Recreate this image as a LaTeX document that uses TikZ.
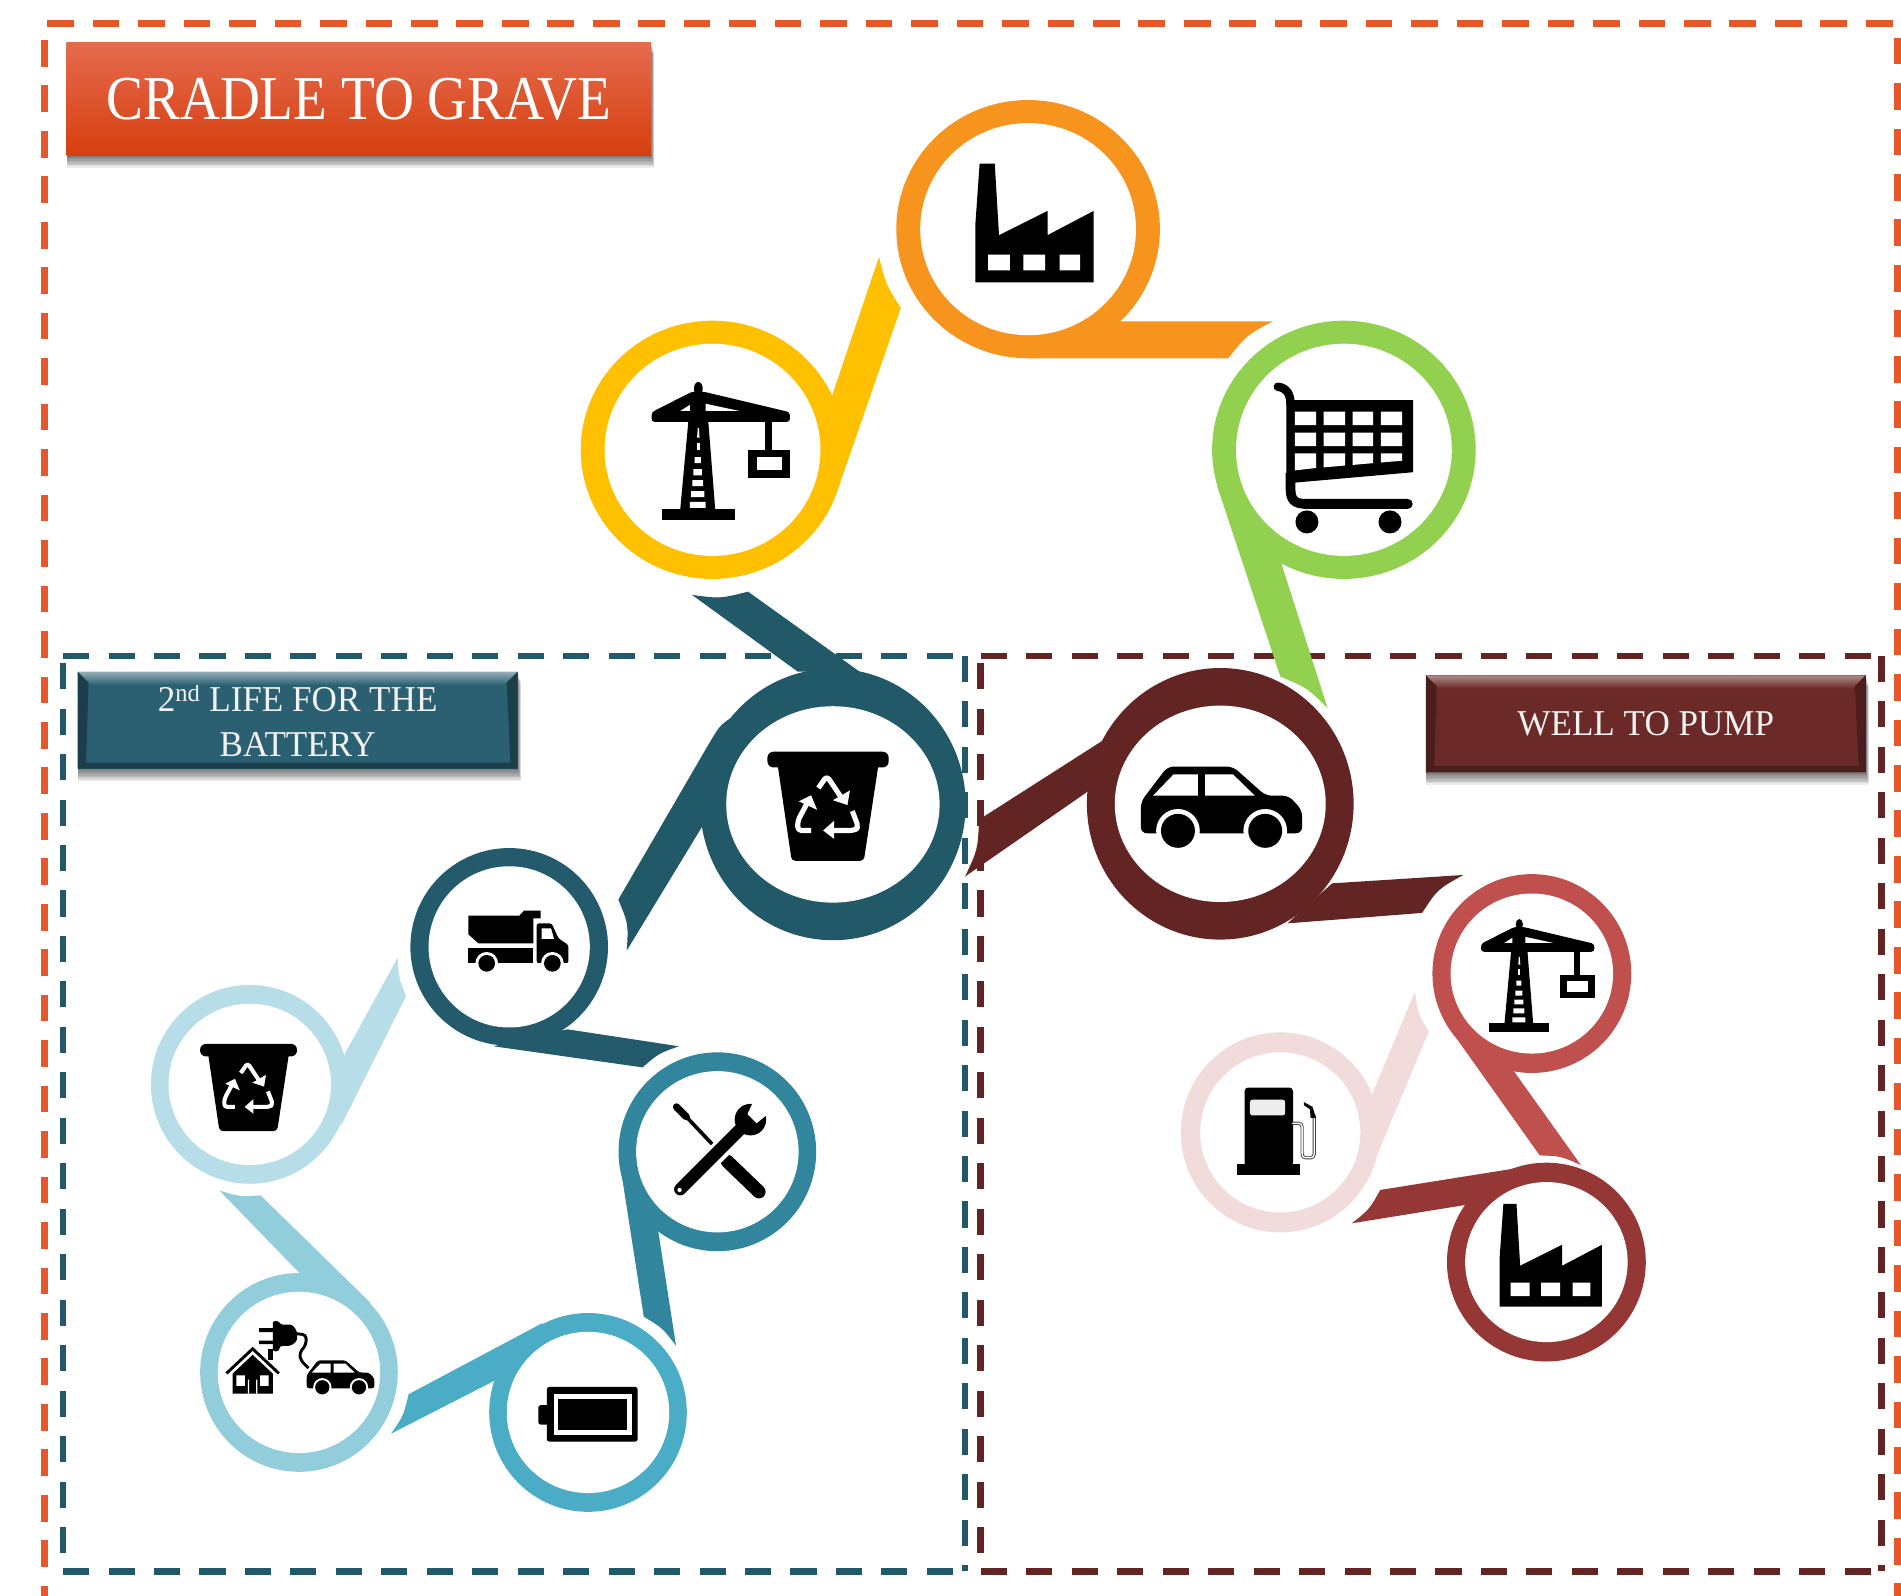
\documentclass[tikz,border=0pt]{standalone}
\usepackage{fontspec}
\usepackage{graphicx}
\usetikzlibrary{shapes.geometric}
\newfontfamily\bigfont[FakeStretch=0.886]{Liberation Serif}
\newfontfamily\tagfont[FakeStretch=0.965]{Liberation Serif}
\definecolor{cOrangeDash}{HTML}{E6582A}
\definecolor{cTeal}{HTML}{215968}
\definecolor{cMaroon}{HTML}{632523}
\definecolor{cTagTeal}{HTML}{2A6072}
\definecolor{cTagMaroon}{HTML}{6B2A28}
\definecolor{cOrange}{HTML}{F7941E}
\definecolor{cYellow}{HTML}{FFC000}
\definecolor{cGreen}{HTML}{92D050}
\definecolor{cTruck}{HTML}{235B6C}
\definecolor{cWrench}{HTML}{31859C}
\definecolor{cBatt}{HTML}{4BACC6}
\definecolor{cCharge}{HTML}{92CDDC}
\definecolor{cPale}{HTML}{B7DEE8}
\definecolor{cCrane}{HTML}{C0504D}
\definecolor{cFact}{HTML}{953735}
\definecolor{cPump}{HTML}{F2DCDB}
\definecolor{cTitleTop}{HTML}{E56B4E}
\definecolor{cTitleMid}{HTML}{E8501E}
\definecolor{cTitleBot}{HTML}{D63F0F}
\tikzset{
  ringout/.style={ellipse,inner sep=0pt,outer sep=0pt,fill=#1},
  ringin/.style={ellipse,inner sep=0pt,outer sep=0pt,fill=white},
  dashbox/.style={line width=5.5pt,dash pattern=on 21.5pt off 16pt,rounded corners=3pt},
  tagbox/.style={rectangle,inner sep=0pt,outer sep=0pt,text=white!95!black,font=\tagfont\fontsize{30}{37}\selectfont,align=center},
}
% name, colour, cx, cy, Rx, Ry, rx, ry
\newcommand{\ringshape}[8]{%
  \node[ringout=#2,minimum width=#5*2pt,minimum height=#6*2pt] (#1) at (#3,#4) {};
  \node[ringin,minimum width=#7*2pt,minimum height=#8*2pt] (#1in) at (#3,#4) {};
}
\newcommand{\softshadow}[4]{%
  \foreach \g in {9,8,7,6,5,4,3,2,1}{%
    \fill[black,opacity=.075] (#1+\g*.05,#2+\g) rectangle (#3+\g*.3,#4+\g*1.15);
  }%
}
% x1 y1 x2 y2 light dark main
\newcommand{\bevel}[7]{%
  \shade[top color=#5,bottom color=#7] (#1,#2) -- (#3,#2) -- (#3-11,#2+11) -- (#1+11,#2+11) -- cycle;
  \fill[#7!85!#6] (#1,#2) -- (#1+9,#2+9) -- (#1+7,#4-5) -- (#1,#4) -- cycle;
  \fill[#7!45!#6] (#3,#2) -- (#3-9,#2+9) -- (#3-6,#4-5) -- (#3,#4) -- cycle;
  \fill[#6] (#1,#4) -- (#1+6,#4-5) -- (#3-6,#4-5) -- (#3,#4) -- cycle;
}
\newcommand{\factoryicon}[3]{%
  \begin{scope}[shift={(#1,#2)},scale=#3]
    \fill[black] (3.5,0) -- (16,0) -- (19.5,59) -- (59.5,39) -- (59.5,59) -- (97.5,39) -- (97.5,98) -- (0,98) -- (0,50) -- cycle;
    \fill[white] (10.5,75) rectangle (28.5,88) (39.5,75) rectangle (57.5,88) (69.5,75) rectangle (86.5,88);
  \end{scope}}
\newcommand{\craneicon}[3]{%
  \begin{scope}[shift={(#1,#2)},scale=#3]
    \fill[black] (38,5.5) ellipse (3.6 and 5.5);
    \fill[black,rounded corners=2.5] (-.5,33) -- (-.5,25) -- (33,8) -- (42,8) -- (113.5,25) -- (113.5,33) -- cycle;
    \fill[black] (30,30) -- (46,30) -- (52,106) -- (23,106) -- cycle;
    \fill[black] (8,105) rectangle (68,114);
    \fill[black] (93,32) rectangle (99,57);
    \fill[black] (79,56) rectangle (114,79);
    \fill[white] (86,62) rectangle (107,73);
    \fill[white] (44,18) -- (72,24) -- (44,24) -- cycle;
    \fill[white] (23,24) -- (31,19) -- (31,24) -- cycle;
    \fill[white] (31,99) rectangle (44,104) (32,90) rectangle (43,95) (33,81) rectangle (42,86) (34,72) rectangle (41,77) (35,62) rectangle (40,67);
    \fill[white] (36.5,50) rectangle (39,56);
    \fill[white] (37.5,38) -- (38.5,38) -- (39,46) -- (37,46) -- cycle;
  \end{scope}}
\newcommand{\binicon}[3]{%
  \begin{scope}[shift={(#1,#2)},scale=#3]
    \fill[black,rounded corners=5] (0,0) rectangle (100,13);
    \fill[black,rounded corners=3] (8,8) -- (92,8) -- (79.5,90) -- (20,90) -- cycle;
    \draw[white,line width=#3*4.2pt,line join=round,rounded corners=#3*3pt] (42,30) -- (49,20) -- (61,38);
    \fill[white] (66,44) -- (54,40) -- (68,32) -- cycle;
    \draw[white,line width=#3*4.2pt,line join=round,rounded corners=#3*3pt] (36,65) -- (25,65) -- (25,57) -- (33,42);
    \fill[white] (36,36) -- (26,41) -- (41,48) -- cycle;
    \draw[white,line width=#3*4.2pt,line join=round,rounded corners=#3*3pt] (70,49) -- (75,62) -- (72,65) -- (52,65);
    \fill[white] (46,65) -- (55,57) -- (55,72) -- cycle;
  \end{scope}}
\newcommand{\caricon}[3]{%
  \begin{scope}[shift={(#1,#2)},scale=#3]
    \fill[black,rounded corners=#3*5pt] (0,55) -- (0,29) -- (22,0) -- (76,0) -- (103,24) -- (122,24) -- (133,36) -- (133,55) -- cycle;
    \fill[white] (10,24) -- (27,6.4) -- (47,6.4) -- (47,24) -- cycle;
    \fill[white] (53,6.4) -- (76,6.4) -- (94,24) -- (53,24) -- cycle;
    \fill[white] (30.6,53) circle (18) (102.6,53) circle (18);
    \fill[white] (0,55.5) rectangle (133,68);
    \fill[black] (30.6,53) circle (14) (102.6,53) circle (14);
  \end{scope}}
\begin{document}
\begin{tikzpicture}[x=1pt,y=-1pt]
\path[use as bounding box,clip] (0,0) rectangle (1568,1316.4);
\fill[white] (0,0) rectangle (1568,1316.4);

% ---- dashed frames
\draw[cOrangeDash,line width=5.5pt,dash pattern=on 22pt off 15.5pt] (39,19.5) -- (1565,19.5) -- (1565,1340);
\draw[cOrangeDash,line width=5.5pt,dash pattern=on 22pt off 15.5pt] (36.5,33) -- (36.5,1340);
\draw[cTeal,dashbox] (52,541) -- (796,541);
\draw[cTeal,dashbox] (796,541) -- (796,1296);
\draw[cTeal,dashbox] (52,1296) -- (796,1296);
\draw[cTeal,dashbox] (52,547) -- (52,1296);
\draw[cMaroon,dashbox] (809,541) -- (1552,541);
\draw[cMaroon,dashbox] (809,547) -- (809,1296);
\draw[cMaroon,dashbox] (809,1296) -- (1552,1296);
\draw[cMaroon,dashbox] (1552,541) -- (1552,1296);

% ---- title tags
\softshadow{55}{35}{537}{128}
\node[rectangle,inner sep=0pt,outer sep=0pt,minimum width=482pt,minimum height=93pt,
      top color=cTitleTop,middle color=cTitleMid,bottom color=cTitleBot,
      text=white,font=\bigfont\fontsize{51.5}{55}\selectfont] (title) at (296,81.5) {\raisebox{-1.5pt}{CRADLE TO GRAVE}};

\softshadow{64}{554}{427}{634}
\node[tagbox,fill=cTagTeal,minimum width=363pt,minimum height=80pt] (tagteal) at (245.5,594) {2\textsuperscript{nd} LIFE FOR THE\\BATTERY};
\bevel{64}{554}{427}{634}{cTagTeal!50!white}{cTagTeal!65!black}{cTagTeal}

\softshadow{1176}{557}{1539}{637}
\node[tagbox,fill=cTagMaroon,minimum width=363pt,minimum height=80pt] (tagmaroon) at (1357.5,597) {\raisebox{-2pt}{WELL TO PUMP}};
\bevel{1176}{557}{1539}{637}{cTagMaroon!55!white}{cTagMaroon!70!black}{cTagMaroon}

% ---- tails
\fill[cOrange] (848,295.5) -- (1013,295.5) .. controls (1028.4,276.3) .. (1050,265) -- (924,265) -- cycle;
\fill[cYellow] (725,212) .. controls (730.6,234.3) .. (743,254) -- (692,401) -- (686.4,326) -- cycle;
\fill[cGreen] (1004,401) -- (1056,558) .. controls (1078.2,567.4) .. (1095,584) -- (1056.8,464.5) -- cycle;
\fill[cMaroon] (914,608) -- (807.6,676) .. controls (806.4,701) .. (796,723) -- (897,653) -- cycle;
\fill[cMaroon] (1098.8,728.6) -- (1207,721.7) .. controls (1185.7,733.5) .. (1173,753) -- (1062,761.6) -- cycle;
\fill[cTeal] (570.8,490.7) .. controls (594,493.8) .. (617,488) -- (709,554) -- (658,554) -- cycle;
\fill[cTeal] (606,590) .. controls (594,598) .. (585,613) -- (510,742) .. controls (518.3,762) .. (517,784) -- (579,682) -- cycle;
\fill[cTruck] (407,863) -- (530,880.4) .. controls (543.3,868.9) .. (560,863) -- (468,849) -- cycle;
\fill[cWrench] (510.3,953) -- (531,1086) .. controls (546.6,1095.5) .. (557.6,1110) -- (543,1016) -- cycle;
\fill[cBatt] (448,1091) -- (337,1150) .. controls (332.9,1167.5) .. (322.6,1182.5) -- (407.5,1139) -- cycle;
\fill[cCharge] (247,1050) -- (181,982) .. controls (197.7,987) .. (215,986) -- (306,1075) -- cycle;
\fill[cPale] (284,870) -- (328,790) .. controls (328.8,806.5) .. (335,821.5) -- (281,929) -- cycle;
\fill[cCrane] (1194.6,847) -- (1270,953) .. controls (1287.5,953.6) .. (1304,961) -- (1249,884) -- cycle;
\fill[cFact] (1273,960) -- (1138.5,981.5) .. controls (1129.5,997.5) .. (1115,1009) -- (1208,994) -- cycle;
\fill[cPump] (1132,902) -- (1167,818) .. controls (1169.6,835.6) .. (1178.5,851) -- (1133.6,958) -- cycle;

% ---- rings
\ringshape{rFactory}{cOrange}{848}{189}{108.7}{106.5}{89}{87.5}
\ringshape{rCrane}{cYellow}{587.7}{371}{108.7}{106.5}{89}{87.5}
\ringshape{rCart}{cGreen}{1108.5}{371}{108.7}{106.5}{89}{87.5}
\ringshape{rCar}{cMaroon}{1006.5}{663}{110}{112}{87}{81}
\ringshape{rBin}{cTeal}{687}{663.5}{109.5}{112}{88}{81}
\ringshape{rTruck}{cTruck}{420}{781}{81.5}{81.5}{66.5}{66.5}
\ringshape{rTools}{cWrench}{591.7}{950}{81.5}{82}{67}{66.5}
\ringshape{rBattery}{cBatt}{485}{1165}{81.5}{82}{67}{66.5}
\ringshape{rCharge}{cCharge}{246.6}{1132}{81.5}{82}{67}{66.5}
\ringshape{rPale}{cPale}{206}{894.4}{81.5}{82}{67}{66.5}
\ringshape{rRedCrane}{cCrane}{1263.5}{803}{82}{82}{67}{66}
\ringshape{rRedFact}{cFact}{1275.5}{1041}{82}{82}{67}{66}
\ringshape{rPump}{cPump}{1056}{934}{82}{82.5}{66}{66}

% ---- icons
\factoryicon{804.5}{135}{1}
\factoryicon{1237}{993}{.865}
\craneicon{538}{315}{1}
\craneicon{1222}{758}{.82}
\binicon{633}{620}{1}
\binicon{165}{861}{.8}
\caricon{941}{632.3}{1}
\caricon{253}{1122}{.42}

% cart
\fill[black] (1061,330) -- (1165.5,330) -- (1165.5,389.5) -- (1069,398) -- (1061,398) -- cycle;
\fill[white] (1068,339.6) rectangle (1085.6,350.6) (1091.7,339.6) rectangle (1109.4,350.6) (1115.6,339.6) rectangle (1132.6,350.6) (1139,339.6) rectangle (1156.6,350.6);
\fill[white] (1068,356.9) rectangle (1085.6,367.9) (1091.7,356.9) rectangle (1109.4,367.9) (1115.6,356.9) rectangle (1132.6,367.9) (1139,356.9) rectangle (1156.6,367.9);
\fill[white] (1068,374) -- (1085.6,374) -- (1085.6,386) -- (1068,388) -- cycle;
\fill[white] (1091.7,374) -- (1109.4,374) -- (1109.4,384) -- (1091.7,385.5) -- cycle;
\fill[white] (1115.6,374) -- (1132.6,374) -- (1132.6,382) -- (1115.6,383.5) -- cycle;
\fill[white] (1139,374) -- (1156.6,374) -- (1156.6,380) -- (1139,381.5) -- cycle;
\draw[black,line width=7pt,line cap=round] (1054,319) .. controls (1062,320) and (1064.5,326) .. (1064.5,334);
\draw[black,line width=8pt] (1064.5,390) -- (1064.5,404) .. controls (1064.5,412) and (1068,415.5) .. (1076,415.5) -- (1161,415.5);
\draw[black,line width=8.5pt,line cap=round] (1076,415.5) -- (1161,415.5);
\fill[black] (1078,430.5) circle (9.5) (1146.5,430.5) circle (9.5);

% truck
\begin{scope}[shift={(371.2,738.2)},scale=.275]
  \fill[black] (55,62) -- (208,62) -- (222,47) -- (272,47) -- (272,70) -- (250,70) -- (250,145) -- (85,145) -- (55,118) -- cycle;
  \fill[black] (55,160) rectangle (250,205);
  \fill[black,rounded corners=2] (260,85) -- (305,85) -- (325,130) -- (355,150) -- (355,205) -- (260,205) -- cycle;
  \fill[white] (275,100) -- (303,100) -- (312,132) -- (275,132) -- cycle;
  \fill[white] (110,205) circle (34) (307,205) circle (34);
  \fill[white] (50,205) rectangle (360,240);
  \fill[black] (110,205) circle (25) (307,205) circle (25);
\end{scope}

% tools
\draw[black,line width=6pt,line cap=round] (558,913) -- (566,921);
\draw[black,line width=3pt] (566,921) -- (600,957);
\draw[black,line width=11pt,line cap=round] (600,958) -- (626,983);
\draw[white,line width=16pt] (572,970) -- (612,931);
\draw[black,line width=10pt,line cap=round] (561,981) -- (613,929);
\fill[black] (619,923.5) circle (13);
\fill[white] (622.5,906) -- (637,916) -- (624,926.5) -- (616.5,919) -- cycle;
\fill[white] (560.5,981.5) circle (1.8);

% battery
\fill[black,rounded corners=2] (451,1144) rectangle (526,1189);
\fill[black,rounded corners=2] (444,1159) rectangle (453,1175);
\fill[white] (457,1149.5) rectangle (521.5,1183.6);
\fill[black] (460.6,1153.6) rectangle (517,1179.6);

% charging: plug, cable, house
\fill[black] (213.7,1095.5) rectangle (226,1098.7) (213.7,1105.8) rectangle (226,1108.6);
\fill[black,rounded corners=2] (225,1089.6) -- (230,1089.6) -- (231,1092.5) -- (241,1092.5) -- (245,1098) -- (245,1106) -- (240,1110) -- (231,1110) -- (230,1114.6) -- (225,1114.6) -- cycle;
\draw[black,line width=2.4pt,rounded corners=3pt] (244,1100) -- (252.5,1101) -- (252.5,1109) -- (247,1116) -- (248,1122) -- (254.5,1128.5);
\draw[black,line width=2.4pt] (186.8,1132.8) -- (208.4,1112.5) -- (230,1132.8);
\fill[black] (221,1113) rectangle (225,1122);
\fill[black] (208.4,1117.5) -- (225,1133) -- (225,1149.5) -- (191.9,1149.5) -- (191.9,1133) -- cycle;
\fill[white] (195,1134.5) rectangle (202,1143) (214.5,1134.5) rectangle (221.5,1143);
\fill[white] (204.5,1138) rectangle (205.5,1149.5) (211.3,1138) rectangle (212.3,1149.5);

% pump
\fill[black,rounded corners=3] (1026.5,962) -- (1026.5,897) -- (1066.5,897) -- (1066.5,962) -- cycle;
\fill[black] (1020,960) rectangle (1072.5,969);
\fill[black!7,rounded corners=2] (1031,907) rectangle (1060,920);
\draw[black!75,line width=2.6pt,rounded corners=3pt] (1066,926.5) -- (1074,926.5) -- (1074,955) -- (1084,955) -- (1084,920);
\draw[white,line width=1.1pt,rounded corners=3pt] (1066,926.5) -- (1074,926.5) -- (1074,955) -- (1084,955) -- (1084,920);
\fill[black] (1075.5,909) -- (1082.6,913) -- (1085.5,922) -- (1081,922) -- (1080.5,915) -- (1075.5,911.5) -- cycle;
\end{tikzpicture}
\end{document}
